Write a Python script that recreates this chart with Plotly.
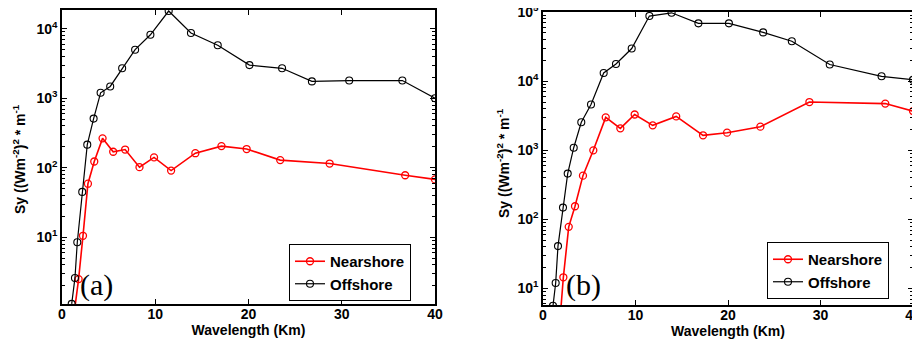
import plotly.graph_objects as go

# ---------------- data ----------------
# Panel (a)
a_near_x = [1.3, 1.78, 2.25, 2.78, 3.46, 4.35, 5.49, 6.77, 8.31, 9.87, 11.7, 14.3, 17.1, 19.8, 23.4, 28.7, 36.8, 40.0]
a_near_y = [0.8, 2.5, 10.5, 59, 123, 265, 170, 183, 102, 141, 91, 162, 205, 186, 129, 115, 78, 68]
a_off_x = [1.04, 1.39, 1.64, 2.17, 2.71, 3.39, 4.14, 5.17, 6.45, 7.84, 9.48, 11.44, 13.83, 16.7, 20.1, 23.6, 26.8, 30.8, 36.5, 40.0]
a_off_y = [1.1, 2.6, 8.5, 45, 215, 510, 1200, 1480, 2700, 5000, 8200, 18000, 8700, 5800, 3000, 2700, 1750, 1800, 1800, 1000]

# Panel (b)
b_near_x = [1.8, 2.2, 2.78, 3.46, 4.32, 5.44, 6.78, 8.36, 9.91, 11.86, 14.4, 17.3, 19.9, 23.5, 28.8, 37.0, 40.0]
b_near_y = [3, 14.5, 78, 155, 430, 1000, 3000, 2080, 3300, 2300, 3100, 1650, 1800, 2200, 5000, 4750, 3700]
b_off_x = [1.08, 1.37, 1.62, 2.16, 2.67, 3.32, 4.14, 5.19, 6.56, 7.89, 9.59, 11.5, 13.9, 16.8, 20.1, 23.8, 26.9, 31.0, 36.6, 40.0]
b_off_y = [5.6, 12, 41, 148, 460, 1090, 2550, 4600, 13200, 17800, 29800, 88000, 98000, 69000, 69000, 51000, 38000, 17500, 11800, 10500]

x_ticks = [0, 10, 20, 30, 40]
x_labels = ["0", "10", "20", "30", "40"]
a_y_ticks = [10, 100, 1000, 10000]
a_y_labels = ["10<sup>1</sup>", "10<sup>2</sup>", "10<sup>3</sup>", "10<sup>4</sup>"]
b_y_ticks = [10, 100, 1000, 10000, 100000]
b_y_labels = ["10<sup>1</sup>", "10<sup>2</sup>", "10<sup>3</sup>", "10<sup>4</sup>", "10<sup>5</sup>"]
series_names = ["Nearshore", "Offshore"]
panel_labels = ["(a)", "(b)"]
x_title = "Wavelength (Km)"
y_title = "Sy ((Wm<sup>-2</sup>)<sup>2</sup> * m<sup>-1</sup>"

# ---------------- figure ----------------
RED = "#ff0000"
BLACK = "#000000"
FONT = "Liberation Sans, Arial, sans-serif"

# The page body has an 8px margin; the figure is sized to fill the rest
# of the 920x345 window, and layout positions are given in window pixels.
OFF = 8
FW, FH = 920 - OFF, 345 - OFF


def px_x(p):
    return (p - OFF) / FW


def px_y(p):
    return (345 - p) / FH


fig = go.Figure()


def add_pair(xn, yn, xo, yo, xa, ya, leg):
    fig.add_trace(go.Scatter(
        x=xn, y=yn, mode="lines+markers", name=series_names[0],
        line=dict(color=RED, width=1.6),
        marker=dict(symbol="circle-open", size=7, color=RED, line=dict(width=1.3)),
        xaxis=xa, yaxis=ya, legend=leg))
    fig.add_trace(go.Scatter(
        x=xo, y=yo, mode="lines+markers", name=series_names[1],
        line=dict(color=BLACK, width=1.2),
        marker=dict(symbol="circle-open", size=7, color=BLACK, line=dict(width=1.1)),
        xaxis=xa, yaxis=ya, legend=leg))


add_pair(a_near_x, a_near_y, a_off_x, a_off_y, "x", "y", "legend")
add_pair(b_near_x, b_near_y, b_off_x, b_off_y, "x2", "y2", "legend2")

minor_vals = [m * 10 ** e for e in range(0, 6) for m in range(2, 10)]

tickfont = dict(family=FONT, size=14, color="black", weight="bold")
titlefont = dict(family=FONT, size=14, color="black", weight="bold")
legfont = dict(family=FONT, size=15, color="black", weight="bold")


def xaxis_cfg(domain, anchor, standoff):
    return dict(domain=domain, anchor=anchor, range=[0, 40],
                tickmode="array", tickvals=x_ticks, ticktext=x_labels,
                ticks="inside", ticklen=5, tickwidth=1, tickcolor="black",
                showline=True, linecolor="black", linewidth=1.5, mirror="ticks",
                showgrid=False, zeroline=False, tickfont=tickfont, automargin=False,
                ticklabelstandoff=-4, ticklabeloverflow="allow",
                title=dict(text=x_title, font=titlefont, standoff=standoff))


def yaxis_cfg(domain, anchor, rng, tv, tt):
    return dict(domain=domain, anchor=anchor, type="log", range=rng,
                tickmode="array", tickvals=tv, ticktext=tt,
                ticks="inside", ticklen=5, tickwidth=1, tickcolor="black",
                minor=dict(tickmode="array", tickvals=minor_vals, ticks="inside",
                           ticklen=3, tickcolor="black", showgrid=False),
                showline=True, linecolor="black", linewidth=1.5, mirror="ticks",
                showgrid=False, zeroline=False, tickfont=tickfont, automargin=False,
                ticklabeloverflow="allow")


fig.update_layout(
    width=FW, height=FH,
    margin=dict(l=0, r=0, t=0, b=0, pad=0),
    paper_bgcolor="white", plot_bgcolor="white",
    xaxis=xaxis_cfg([px_x(62), px_x(435)], "y", 0),
    yaxis=yaxis_cfg([px_y(304), px_y(10)], "x", [0.04, 4.27], a_y_ticks, a_y_labels),
    xaxis2=xaxis_cfg([px_x(543), px_x(913)], "y2", 4),
    yaxis2=yaxis_cfg([px_y(305), px_y(12)], "x2", [0.76, 5.003], b_y_ticks, b_y_labels),
    legend=dict(x=px_x(289), y=px_y(244), xanchor="left", yanchor="top",
                bordercolor="black", borderwidth=1, bgcolor="white",
                font=legfont, tracegroupgap=0, itemwidth=30),
    legend2=dict(x=px_x(767), y=px_y(242), xanchor="left", yanchor="top",
                 bordercolor="black", borderwidth=1, bgcolor="white",
                 font=legfont, tracegroupgap=0, itemwidth=30),
    showlegend=True,
)

# y-axis titles placed as rotated annotations
for xp, yp in [(19, 159), (503, 163)]:
    fig.add_annotation(text=y_title, xref="paper", yref="paper", x=px_x(xp), y=px_y(yp),
                       xanchor="center", yanchor="middle", textangle=-90,
                       showarrow=False, font=titlefont)

for lab, xp, yp in [(panel_labels[0], 78, 304), (panel_labels[1], 564, 304)]:
    fig.add_annotation(text=lab, xref="paper", yref="paper", x=px_x(xp), y=px_y(yp),
                       xanchor="left", yanchor="bottom", showarrow=False,
                       font=dict(family="Liberation Serif, Times New Roman, serif",
                                 size=30, color="black"))

fig.write_html("out.html")
